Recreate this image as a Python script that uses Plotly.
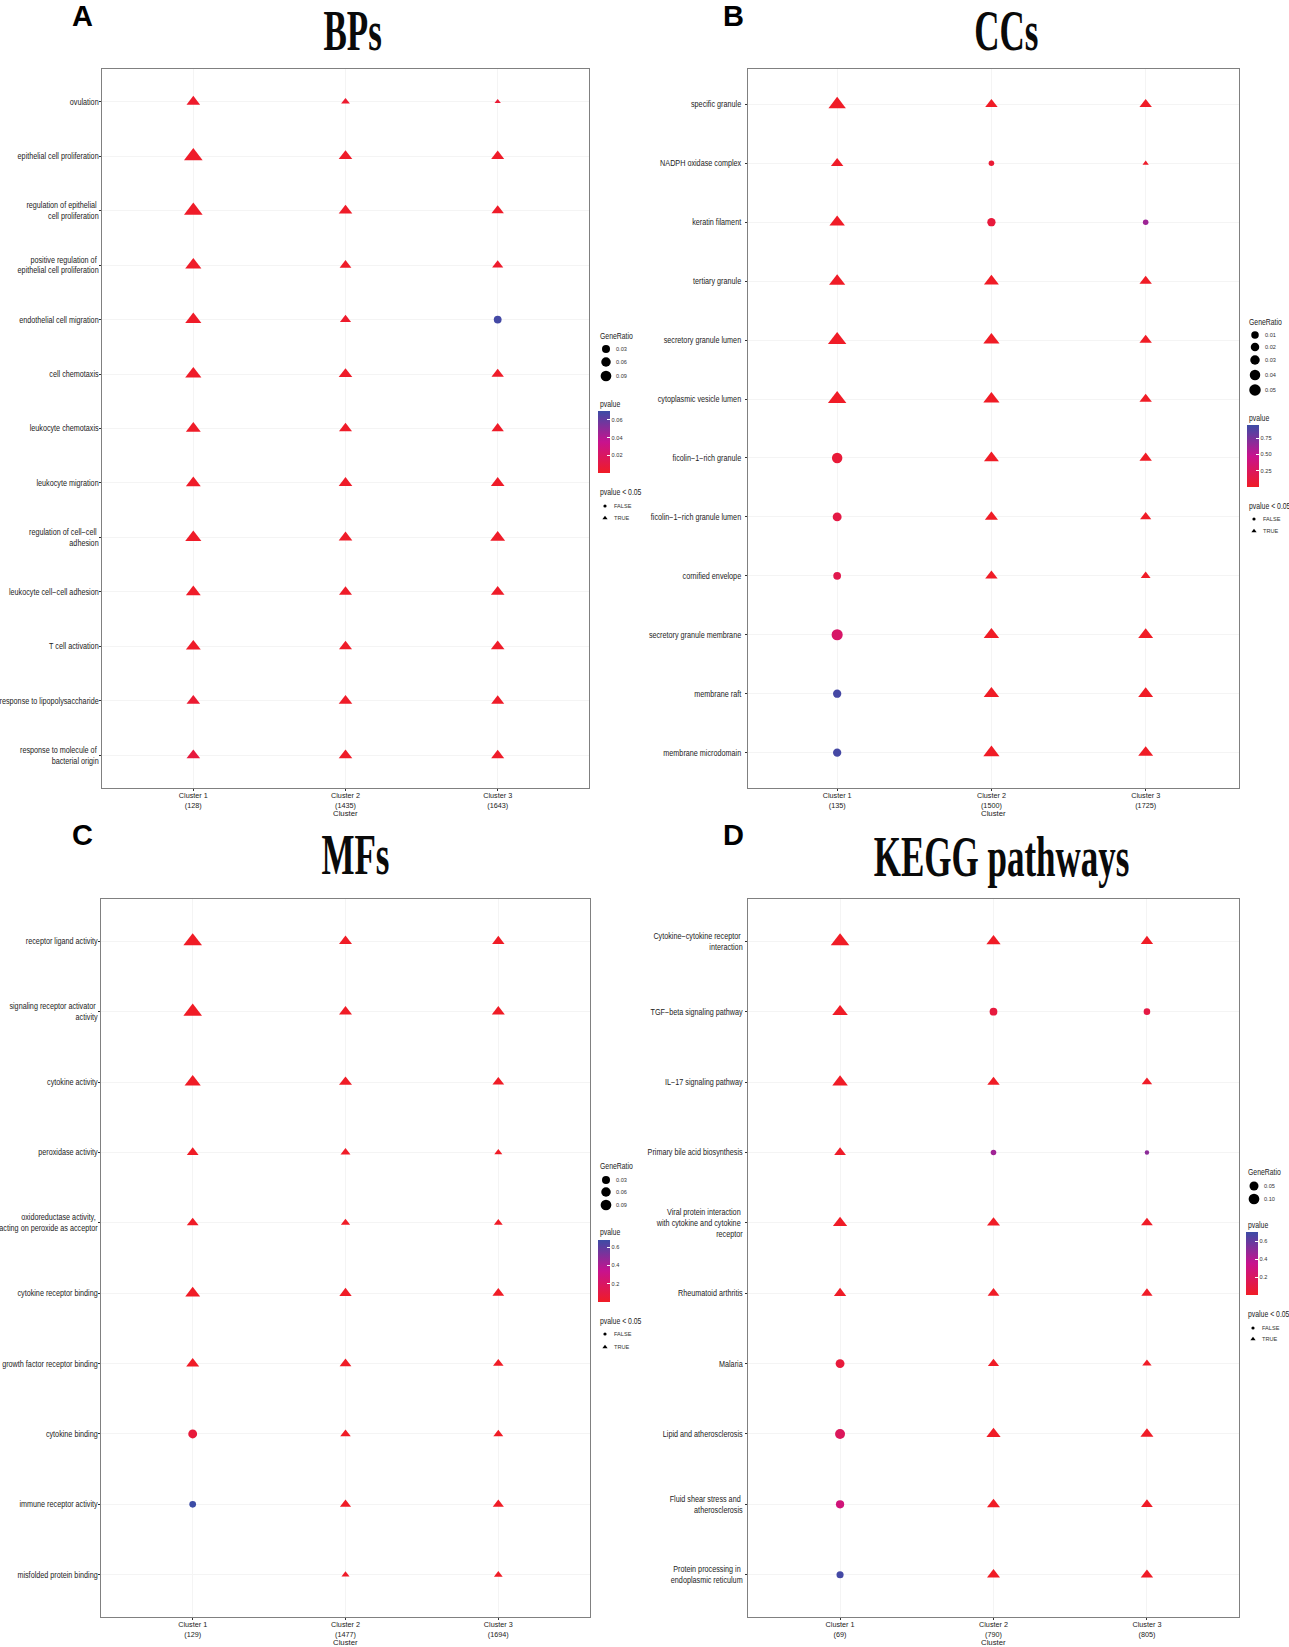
import plotly.graph_objects as go

W, H = 1289, 1647

# ---------- data ----------
bp_terms = ["ovulation", "epithelial cell proliferation", "regulation of epithelial <br>cell proliferation",
            "positive regulation of <br>epithelial cell proliferation", "endothelial cell migration", "cell chemotaxis",
            "leukocyte chemotaxis", "leukocyte migration", "regulation of cell−cell <br>adhesion",
            "leukocyte cell−cell adhesion", "T cell activation", "response to lipopolysaccharide",
            "response to molecule of <br>bacterial origin"]
bp_clusters = ["Cluster 1<br>(128)", "Cluster 2<br>(1435)", "Cluster 3<br>(1643)"]
bp_ratio = [[.06, .113, .113, .085, .085, .085, .072, .072, .085, .072, .072, .06, .06],
            [.025, .06, .06, .045, .04, .06, .055, .06, .06, .055, .055, .06, .06],
            [.013, .055, .05, .04, .033, .05, .05, .06, .072, .06, .06, .055, .055]]
bp_p = [[.002, .001, .001, .001, .001, .001, .001, .001, .001, .001, .001, .004, .008],
        [.003, .001, .001, .001, .002, .001, .001, .001, .001, .001, .001, .001, .001],
        [.005, .001, .001, .002, .068, .001, .001, .001, .001, .001, .001, .001, .001]]

cc_terms = ["specific granule", "NADPH oxidase complex", "keratin filament", "tertiary granule",
            "secretory granule lumen", "cytoplasmic vesicle lumen", "ficolin−1−rich granule",
            "ficolin−1−rich granule lumen", "cornified envelope", "secretory granule membrane",
            "membrane raft", "membrane microdomain"]
cc_clusters = ["Cluster 1<br>(135)", "Cluster 2<br>(1500)", "Cluster 3<br>(1725)"]
cc_ratio = [[.053, .027, .042, .046, .06, .06, .032, .023, .0175, .036, .02, .02],
            [.027, .009, .02, .039, .046, .046, .039, .03, .027, .042, .042, .046],
            [.027, .007, .009, .027, .027, .027, .027, .022, .017, .039, .039, .039]]
cc_p = [[.005, .01, .005, .005, .005, .005, .08, .14, .18, .3, .92, .92],
        [.002, .07, .1, .001, .001, .001, .001, .001, .002, .001, .001, .001],
        [.004, .02, .62, .002, .002, .002, .002, .003, .003, .001, .001, .001]]

mf_terms = ["receptor ligand activity", "signaling receptor activator <br>activity", "cytokine activity",
            "peroxidase activity", "oxidoreductase activity, <br>acting on peroxide as acceptor",
            "cytokine receptor binding", "growth factor receptor binding", "cytokine binding",
            "immune receptor activity", "misfolded protein binding"]
mf_clusters = ["Cluster 1<br>(129)", "Cluster 2<br>(1477)", "Cluster 3<br>(1694)"]
mf_ratio = [[.113, .113, .085, .045, .045, .072, .055, .042, .024, None],
            [.055, .055, .055, .032, .028, .05, .045, .036, .04, .021],
            [.05, .055, .045, .021, .025, .045, .036, .032, .04, .025]]
mf_p = [[.001, .001, .001, .001, .002, .001, .002, .07, .68, None],
        [.001, .001, .001, .002, .002, .001, .001, .001, .001, .01],
        [.001, .001, .001, .002, .002, .001, .001, .001, .001, .001]]

kegg_terms = ["Cytokine−cytokine receptor <br>interaction", "TGF−beta signaling pathway", "IL−17 signaling pathway",
              "Primary bile acid biosynthesis", "Viral protein interaction <br>with cytokine and cytokine <br>receptor",
              "Rheumatoid arthritis", "Malaria", "Lipid and atherosclerosis", "Fluid shear stress and <br>atherosclerosis",
              "Protein processing in <br>endoplasmic reticulum"]
kegg_clusters = ["Cluster 1<br>(69)", "Cluster 2<br>(790)", "Cluster 3<br>(805)"]
kegg_ratio = [[.135, .094, .094, .054, .079, .06, .051, .064, .044, .033],
              [.079, .039, .06, .02, .066, .054, .049, .079, .066, .066],
              [.06, .028, .043, .013, .054, .049, .034, .066, .054, .06]]
kegg_p = [[.001, .003, .002, .01, .002, .005, .07, .18, .28, .68],
          [.001, .08, .001, .45, .001, .001, .001, .001, .001, .001],
          [.001, .1, .002, .5, .002, .002, .004, .002, .002, .002]]

bp_size_breaks = [0.03, 0.06, 0.09]
cc_size_breaks = [0.01, 0.02, 0.03, 0.04, 0.05]
mf_size_breaks = [0.03, 0.06, 0.09]
kegg_size_breaks = [0.05, 0.10]
bp_p_breaks = [0.02, 0.04, 0.06]
cc_p_breaks = [0.25, 0.50, 0.75]
mf_p_breaks = [0.2, 0.4, 0.6]
kegg_p_breaks = [0.2, 0.4, 0.6]

# ---------- style / layout ----------
RED, MAG, BLUE = "#F01C26", "#C8128E", "#3C4CA6"
SCALE = [[0, RED], [0.5, MAG], [1, BLUE]]
FONT = "Liberation Sans, Arial, sans-serif"
AX_SIZE = 8.4
X_SIZE = 7.8
LEG_SIZE = 5.6
LEG_TITLE = 8.6
AREA = 1.8  # area-mode factor between gene ratio and marker area
TRI = 1.25  # triangles are drawn slightly larger than circles of the same ratio

panels = [
    dict(title="BPs", letter="A", terms=bp_terms, clusters=bp_clusters, ratio=bp_ratio, p=bp_p, pmax=.07,
         box=(102, 589, 69, 788), xr=[-0.6, 2.6], sizeref=.0006 * AREA, size_breaks=bp_size_breaks, p_breaks=bp_p_breaks, fmt="{:.2f}",
         title_xy=(352, 31), letter_xy=(82, 16),
         lx=600, y_title=336, dots=[349, 362, 376], dot_px=[8, 9.5, 10.7], y_p=404, bar=(411, 473), y_sig=492, y_f=506, y_t=518),
    dict(title="CCs", letter="B", terms=cc_terms, clusters=cc_clusters, ratio=cc_ratio, p=cc_p, pmax=.95,
         box=(748, 1239, 69, 788), xr=[-0.578, 2.605], sizeref=.000324 * AREA, size_breaks=cc_size_breaks, p_breaks=cc_p_breaks, fmt="{:.2f}",
         title_xy=(1006, 31), letter_xy=(733, 16),
         lx=1249, y_title=322, dots=[335, 347, 360, 375, 390], dot_px=[7.5, 8.5, 9.5, 10.5, 11.5], y_p=418, bar=(425, 487), y_sig=506, y_f=519, y_t=531),
    dict(title="MFs", letter="C", terms=mf_terms, clusters=mf_clusters, ratio=mf_ratio, p=mf_p, pmax=.68,
         box=(101, 590, 899, 1617), xr=[-0.6, 2.6], sizeref=.0006 * AREA, size_breaks=mf_size_breaks, p_breaks=mf_p_breaks, fmt="{:.1f}",
         title_xy=(355, 855), letter_xy=(82, 835),
         lx=600, y_title=1166, dots=[1180, 1192, 1205], dot_px=[8, 9.5, 10.7], y_p=1232, bar=(1240, 1302), y_sig=1321, y_f=1334, y_t=1347),
    dict(title="KEGG pathways", letter="D", terms=kegg_terms, clusters=kegg_clusters, ratio=kegg_ratio, p=kegg_p, pmax=.7,
         box=(748, 1239, 899, 1617), xr=[-0.6, 2.6], sizeref=.00072 * AREA, size_breaks=kegg_size_breaks, p_breaks=kegg_p_breaks, fmt="{:.1f}",
         title_xy=(1001, 857), letter_xy=(733, 835),
         lx=1248, y_title=1172, dots=[1186, 1199], dot_px=[9, 10.7], y_p=1225, bar=(1232, 1295), y_sig=1314, y_f=1328, y_t=1339),
]


def px(x):
    return x / W


def py(y):
    return 1 - y / H


fig = go.Figure()
annotations = []
axes = {}


def text(x, y, s, size, anchor="left", color="#222", family=FONT):
    annotations.append(dict(x=px(x), y=py(y), xref="paper", yref="paper", text=s, showarrow=False,
                            xanchor=anchor, yanchor="middle", font=dict(size=size, color=color, family=family)))


for i, P in enumerate(panels, start=1):
    x0, x1, y0, y1 = P["box"]
    n = len(P["terms"])
    xa, ya = f"x{i}", f"y{i}"
    ca = "coloraxis" if i == 1 else f"coloraxis{i}"
    common = dict(type="category", showgrid=True, gridcolor="#F4F4F4", gridwidth=0.7, zeroline=False,
                  showline=True, mirror=True, linecolor="#808080", linewidth=1.3,
                  ticks="outside", ticklen=2, tickwidth=0.7, tickcolor="#333")
    axes[f"xaxis{i}"] = dict(common, domain=[px(x0), px(x1)], anchor=ya, categoryorder="array",
                             categoryarray=P["clusters"], range=P["xr"],
                             tickfont=dict(size=X_SIZE, color="#222", family=FONT))
    axes[f"yaxis{i}"] = dict(common, domain=[py(y1), py(y0)], anchor=xa, categoryorder="array",
                             categoryarray=P["terms"], range=[n - 0.4, -0.6],
                             tickfont=dict(size=AX_SIZE, color="#222", family=FONT))
    text((x0 + x1) / 2, y1 + 25.5, "Cluster", X_SIZE, anchor="center")
    for c, cname in enumerate(P["clusters"]):
        keep = [k for k in range(n) if P["ratio"][c][k] is not None]
        pv = [P["p"][c][k] for k in keep]
        fig.add_trace(go.Scatter(
            x=[cname] * len(keep), y=[P["terms"][k] for k in keep], mode="markers", xaxis=xa, yaxis=ya,
            showlegend=False, cliponaxis=False,
            marker=dict(size=[P["ratio"][c][k] * (TRI if P["p"][c][k] < 0.05 else 1) for k in keep],
                        sizemode="area", sizeref=P["sizeref"], sizemin=2,
                        color=pv, coloraxis=ca, line_width=0, opacity=1,
                        symbol=["triangle-up" if v < 0.05 else "circle" for v in pv])))
    bar_top, bar_bot = P["bar"]
    fig.update_layout({ca: dict(
        cmin=0, cmax=P["pmax"], colorscale=SCALE,
        colorbar=dict(x=px(P["lx"] - 2), xanchor="left", xpad=0, y=py((bar_top + bar_bot) / 2), yanchor="middle", ypad=0,
                      lenmode="pixels", len=bar_bot - bar_top, thicknessmode="pixels", thickness=12,
                      outlinewidth=0, ticks="inside", ticklen=3, tickwidth=0.7, tickcolor="white",
                      tickvals=P["p_breaks"], ticktext=[P["fmt"].format(v) for v in P["p_breaks"]],
                      tickfont=dict(size=LEG_SIZE, color="#333", family=FONT)))})
    # legends
    lx = P["lx"]
    fig.add_trace(go.Scatter(x=[lx + 6] * len(P["dots"]), y=P["dots"], mode="markers", xaxis="x5", yaxis="y5",
                             showlegend=False, marker=dict(color="#000000", opacity=1, size=P["dot_px"], line_width=0)))
    fig.add_trace(go.Scatter(x=[lx + 5, lx + 5], y=[P["y_f"], P["y_t"]], mode="markers", xaxis="x5", yaxis="y5",
                             showlegend=False, marker=dict(color="#000000", opacity=1, size=[3.2, 4.5], symbol=["circle", "triangle-up"], line_width=0)))
    text(lx - 2, P["y_title"], "GeneRatio", LEG_TITLE)
    for yy, v in zip(P["dots"], P["size_breaks"]):
        text(lx + 14, yy, f"{v:.2f}", LEG_SIZE, color="#333")
    text(lx - 2, P["y_p"], "pvalue", LEG_TITLE)
    text(lx - 2, P["y_sig"], "pvalue &lt; 0.05", LEG_TITLE)
    text(lx + 12, P["y_f"], "FALSE", LEG_SIZE, color="#333")
    text(lx + 12, P["y_t"], "TRUE", LEG_SIZE, color="#333")
    # titles and letters
    text(P["title_xy"][0], P["title_xy"][1], f"<b>{P['title']}</b>", 56, anchor="center", color="#0a0a0a", family="Liberation Serif")
    text(P["letter_xy"][0], P["letter_xy"][1], f"<b>{P['letter']}</b>", 29, anchor="center", color="black", family="Liberation Sans")

axes["xaxis5"] = dict(domain=[0, 1], range=[0, W], visible=False, anchor="y5")
axes["yaxis5"] = dict(domain=[0, 1], range=[H, 0], visible=False, anchor="x5")

fig.update_layout(width=W, height=H, autosize=False, margin=dict(l=0, r=0, t=0, b=0, autoexpand=False), paper_bgcolor="white",
                  plot_bgcolor="rgba(0,0,0,0)", showlegend=False, annotations=annotations, **axes)

titles = [P["title"] for P in panels]
post = """
document.body.style.margin='0';
var T=%s, L=['GeneRatio','pvalue','pvalue < 0.05'];
document.querySelectorAll('.annotation-text').forEach(function(el){
  var t=el.textContent, s=null, o=null;
  if(T.indexOf(t)>=0){s=0.625;o='center';}
  else if(L.indexOf(t)>=0){s=0.8;o='left center';}
  if(s){el.style.transformBox='fill-box';el.style.transformOrigin=o;el.style.transform='scaleX('+s+')';}
});
function squeeze(sel,s,dx,dy){
  document.querySelectorAll(sel).forEach(function(el){
    var ax=parseFloat(el.getAttribute('x'))||0, tr=el.getAttribute('transform')||'';
    el.setAttribute('transform',tr+' translate('+(ax+dx)+','+dy+') scale('+s+',1) translate('+(-ax)+',0)');
  });
}
squeeze('g.ytick text, g.y3tick text',0.86,1.5,0);
squeeze('g.y2tick text',0.86,-2,0);
squeeze('g.y4tick text',0.86,-0.5,0);
squeeze('g.xtick text, g.x2tick text, g.x3tick text, g.x4tick text',0.93,0,-2.5);
""" % (titles,)
fig.write_html("out.html", post_script=post, config={"displayModeBar": False})
